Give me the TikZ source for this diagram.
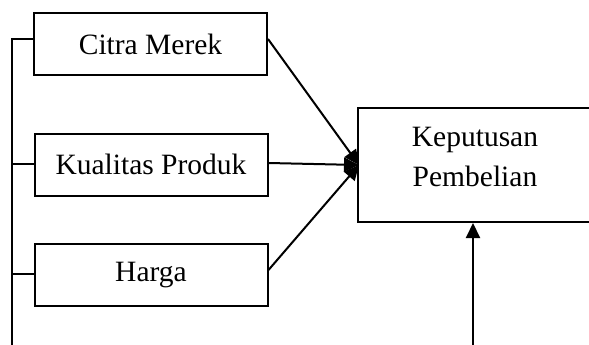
\documentclass[tikz,border=0pt]{standalone}
\usepackage{fontspec}
\setmainfont{Liberation Serif}
\usetikzlibrary{arrows.meta}
\begin{document}
\begin{tikzpicture}[x=1pt,y=-1pt,
  box/.style={draw,line width=2pt,minimum width=233pt,minimum height=62pt,inner sep=0pt,
    font=\fontsize{29.5}{34}\selectfont},
  link/.style={line width=2pt},
  arr/.style={line width=2pt,-{Triangle[length=15pt,width=14pt]}}]
\useasboundingbox (0,0) rectangle (589,345);
\clip (0,0) rectangle (589,345);
\node[box] (cm) at (150.5,44) {Citra Merek};
\node[box] (kp) at (151,164.5) {Kualitas Produk};
\node[box] (hg) at (151,275) {Harga};
\node[draw,line width=2pt,minimum width=236pt,minimum height=114pt,inner sep=0pt] (kb) at (476,165) {};
\node[font=\fontsize{29.5}{40}\selectfont,align=center] (kt) at (475,157) {Keputusan\\Pembelian};
\coordinate (top) at (12,39);
\coordinate (bot) at (12,346);
\coordinate (b2) at (12,164);
\coordinate (b3) at (12,274);
\coordinate (tip) at (359,165);
\coordinate (src) at (473,346);
\draw[link] (bot) -- (top) -- (cm.west |- top);
\draw[link] (b2) -- (kp.west |- b2);
\draw[link] (b3) -- (hg.west |- b3);
\draw[arr] (cm.east |- 0,39) -- (tip);
\draw[arr] (kp.east |- 0,163) -- (tip);
\draw[arr] (hg.east |- 0,270) -- (tip);
\draw[arr] (src) -- (src |- kb.south);
\end{tikzpicture}
\end{document}
